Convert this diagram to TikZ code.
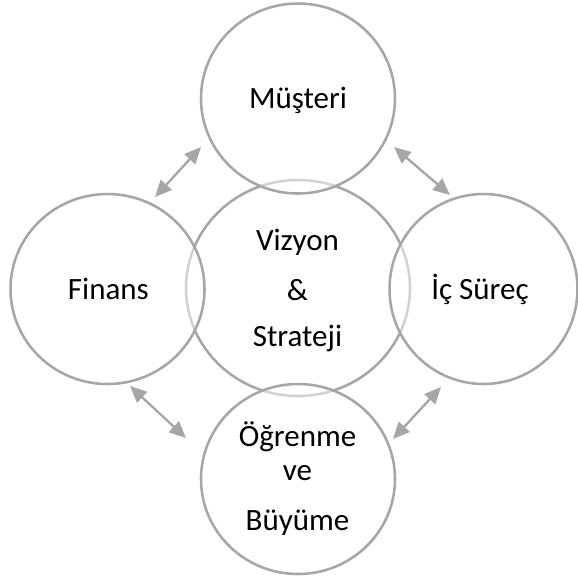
\documentclass[tikz,border=0pt]{standalone}
\usepackage{fontspec}
\setmainfont{Carlito}
\usetikzlibrary{shapes.geometric,arrows.meta}
\definecolor{ringgray}{HTML}{A6A6A6}
\begin{document}
\begin{tikzpicture}[x=0.75pt,y=-0.75pt,
  ring/.style={ellipse,draw=ringgray,line width=1.9pt,inner sep=0pt,outer sep=0pt},
  corering/.style={ring,fill=white,minimum width=168pt,minimum height=162pt},
  outerring/.style={ring,fill=white,fill opacity=0.5,minimum width=145.5pt,minimum height=142.5pt},
  lbl/.style={font=\fontsize{23.25}{28}\selectfont,anchor=base,inner sep=0pt,text=black},
  link/.style={{Triangle[length=12.5pt,width=11pt]}-{Triangle[length=12.5pt,width=11pt]},draw=ringgray,line width=1.75pt}]
\useasboundingbox (0,0) rectangle (578,576);
\fill[white] (0,0) rectangle (578,576);
% centre ring first
\node[corering] (core) at (298,288) {};
% outer rings (semi-transparent white fill)
\node[outerring] (top) at (298,98.5) {};
\node[outerring] (left) at (107.5,289) {};
\node[outerring,minimum width=141pt] (right) at (483.5,289) {};
\node[outerring] (bottom) at (298,479) {};
% labels
\node[lbl] (tM) at (298,108.3) {Müşteri};
\node[lbl] (tF) at (108.4,299) {Finans};
\node[lbl] (tI) at (480,299) {İç Süreç};
\node[lbl] (tV1) at (297.5,250.5) {Vizyon};
\node[lbl] (tV2) at (297.5,300) {\&};
\node[lbl] (tV3) at (297.5,346.7) {Strateji};
\node[lbl] (tO1) at (297.5,446) {Öğrenme};
\node[lbl] (tO2) at (297.5,480.5) {ve};
\node[lbl] (tO3) at (297.5,530) {Büyüme};
% connectors
\coordinate (a1s) at (155,197); \coordinate (a1e) at (201,147);
\coordinate (a2s) at (394,147); \coordinate (a2e) at (450,195);
\coordinate (a3s) at (130,386); \coordinate (a3e) at (186,438);
\coordinate (a4s) at (441,387); \coordinate (a4e) at (393,439);
\draw[link] (a1s) -- (a1e);
\draw[link] (a2s) -- (a2e);
\draw[link] (a3s) -- (a3e);
\draw[link] (a4s) -- (a4e);
\end{tikzpicture}
\end{document}
